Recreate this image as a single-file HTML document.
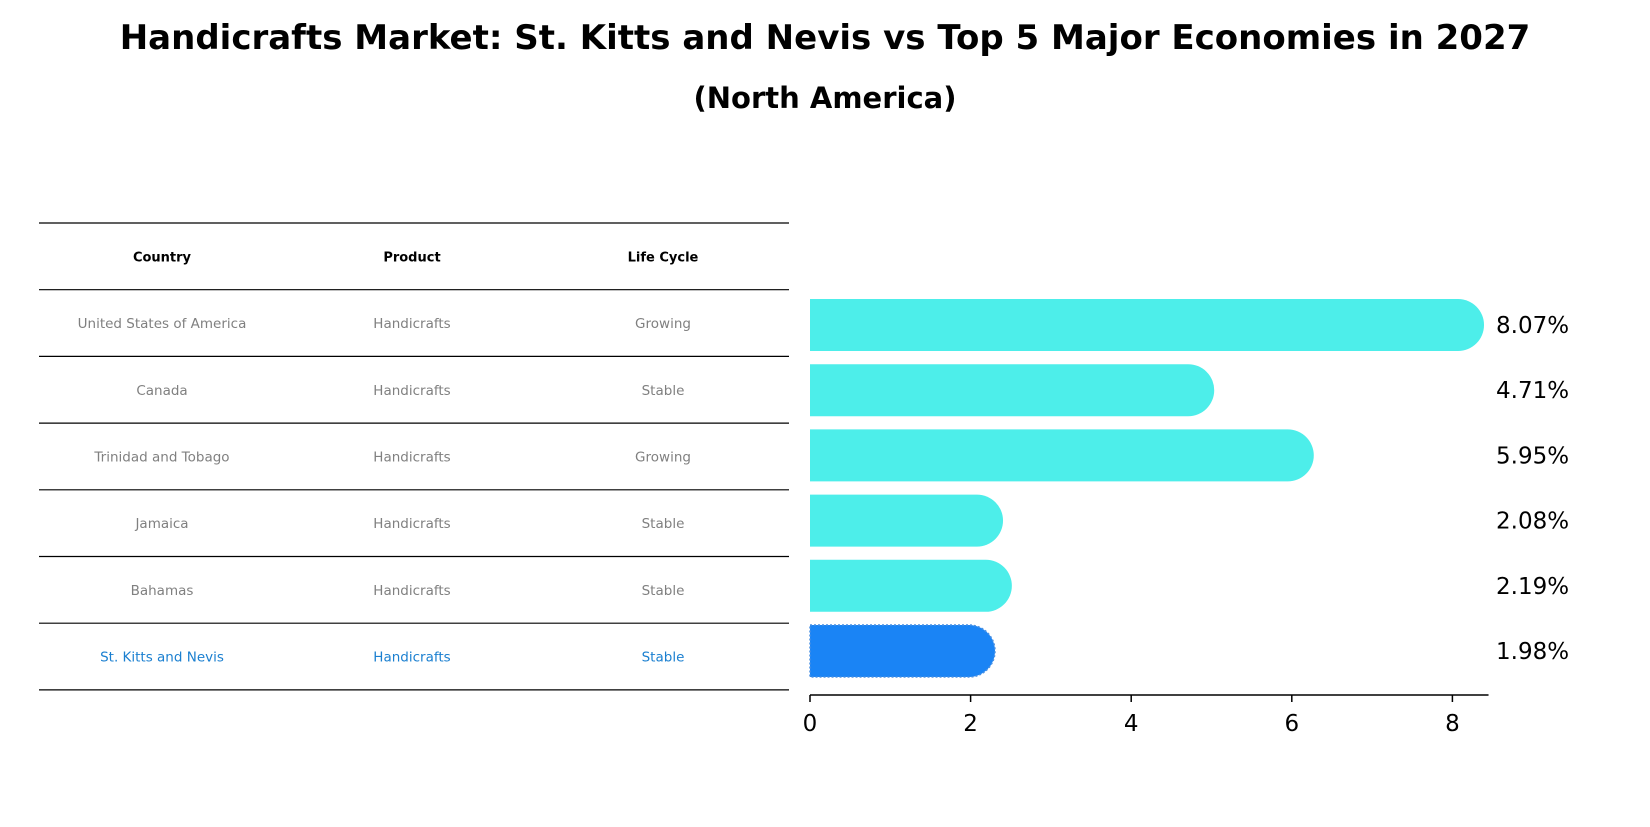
<!DOCTYPE html>
<html><head><meta charset="utf-8"><style>
body{margin:0;background:#fff;font-family:"DejaVu Sans","Liberation Sans",sans-serif;}
svg text{font-family:"DejaVu Sans","Liberation Sans",sans-serif;}
</style></head><body>
<svg id="chart" width="1650" height="823" viewBox="0 0 1650 823" xmlns="http://www.w3.org/2000/svg">
<text x="825" y="49" text-anchor="middle" font-size="34" font-weight="bold">Handicrafts Market: St. Kitts and Nevis vs Top 5 Major Economies in 2027</text>
<text x="825" y="108" text-anchor="middle" font-size="29" font-weight="bold">(North America)</text>
<g id="table"></g>
<g id="bars"></g>
<g id="axis"></g>
</svg>
<script>
const countries=["United States of America","Canada","Trinidad and Tobago","Jamaica","Bahamas","St. Kitts and Nevis"];
const products=["Handicrafts","Handicrafts","Handicrafts","Handicrafts","Handicrafts","Handicrafts"];
const lifeCycles=["Growing","Stable","Growing","Stable","Stable","Stable"];
const values=[8.07,4.71,5.95,2.08,2.19,1.98];
const valueLabels=["8.07%","4.71%","5.95%","2.08%","2.19%","1.98%"];
const ticks=[0,2,4,6,8];

const NS="http://www.w3.org/2000/svg";
function mk(tag,attrs,parent){const e=document.createElementNS(NS,tag);for(const k in attrs)e.setAttribute(k,attrs[k]);parent.appendChild(e);return e;}
const x0=810,pxPer=80.3;
const xs=v=>x0+v*pxPer;
const rowY=i=>325+i*65.2;
const barH=52;
const tbl=document.getElementById('table'),bars=document.getElementById('bars'),axis=document.getElementById('axis');
// table
const lineY=i=>223+i*66.7;
for(let i=0;i<=7;i++){
 const l=mk('line',{x1:39,x2:789,y1:lineY(i),y2:lineY(i),stroke:'#000','stroke-width':1.2},tbl);
 
 
}
const colX=[162,412,663];
["Country","Product","Life Cycle"].forEach((h,j)=>{
 const t=mk('text',{x:colX[j],y:(lineY(0)+lineY(1))/2+5,'text-anchor':'middle','font-size':13,'font-weight':'bold'},tbl);
 t.textContent=h;
 
 
});
countries.forEach((c,i)=>{
 const y=(lineY(i+1)+lineY(i+2))/2+5;
 const col=i===countries.length-1?'#1a7fd0':'#808080';
 [c,products[i],lifeCycles[i]].forEach((s,j)=>{
  const t=mk('text',{x:colX[j],y:y,'text-anchor':'middle','font-size':13.5,fill:col},tbl);
  t.textContent=s;
  
  
 });
});
// bars
values.forEach((v,i)=>{
 const cy=rowY(i),hl=i===values.length-1;
 const fill=hl?'#1a84f5':'#4deeea';
 const r=barH/2;
 const p=mk('path',{d:`M${xs(0)},${cy-r} H${xs(v)} A${r},${r} 0 0 1 ${xs(v)},${cy+r} H${xs(0)} Z`,fill:fill},bars);
 if(hl){p.setAttribute('stroke','#4a90e2');p.setAttribute('stroke-dasharray','2,2');p.setAttribute('stroke-width','1.5');}
 
 
 const t=mk('text',{x:1496,y:cy+8,'font-size':23},bars);
 t.textContent=valueLabels[i];
 
 
});
// axis
const ay=695;
const al=mk('line',{x1:xs(0),x2:xs(8.45),y1:ay,y2:ay,stroke:'#000','stroke-width':1.5},axis);


ticks.forEach(v=>{
 const tk=mk('line',{x1:xs(v),x2:xs(v),y1:ay,y2:ay+7,stroke:'#000','stroke-width':1.5},axis);
 
 
 const t=mk('text',{x:xs(v),y:ay+36,'text-anchor':'middle','font-size':23},axis);
 t.textContent=String(v);
 
 
});
</script>
</body></html>
